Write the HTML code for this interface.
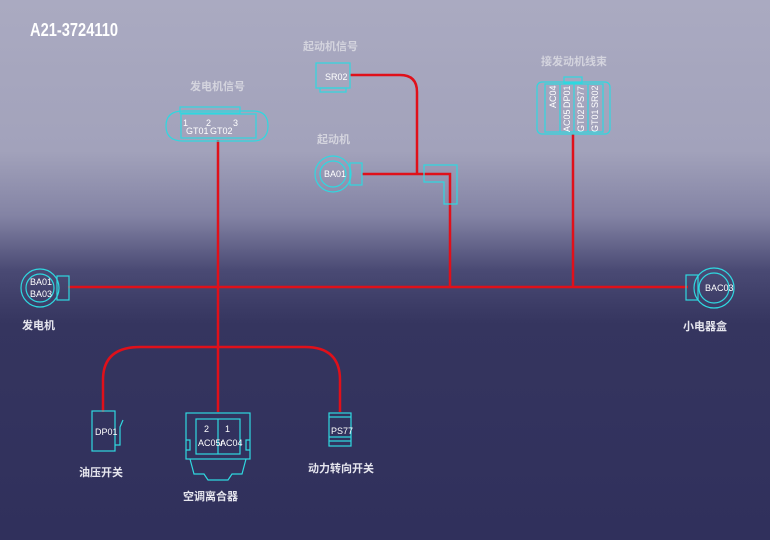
<!DOCTYPE html>
<html><head><meta charset="utf-8"><style>
body{margin:0;width:770px;height:540px;overflow:hidden}
svg{display:block}
text{font-family:"Liberation Sans","Noto Sans CJK SC",sans-serif}
.c{fill:none;stroke:#2fd8e0;stroke-width:1.2}
.r{fill:none;stroke:#e0101a;stroke-width:2.5}
.l{fill:#e6e6ee;font-size:11px;font-weight:bold}
.lt{fill:#d4d4de;font-size:11px;font-weight:bold}
.w{fill:#ffffff;font-size:9px}
</style></head><body>
<svg width="770" height="540" viewBox="0 0 770 540">
<defs><linearGradient id="g" x1="0" y1="0" x2="0" y2="1">
<stop offset="0" stop-color="#aaaac1"/>
<stop offset="0.28" stop-color="#a2a2bb"/>
<stop offset="0.4" stop-color="#8383a4"/>
<stop offset="0.5" stop-color="#4a4a74"/>
<stop offset="0.6" stop-color="#35355f"/>
<stop offset="1" stop-color="#30305c"/>
</linearGradient></defs>
<rect width="770" height="540" fill="url(#g)"/>
<text x="30" y="36" fill="#fff" font-size="18" font-weight="bold" textLength="88" lengthAdjust="spacingAndGlyphs">A21-3724110</text>

<!-- red wires -->
<path class="r" d="M68 287H688"/>
<path class="r" d="M218 140V412"/>
<path class="r" d="M103 412V380Q103 347 140 347H305Q340 347 340 380V412"/>
<path class="r" d="M350 75H400Q417 75 417 92V175"/>
<path class="r" d="M362 174H450V287"/>
<path class="r" d="M573 134V287"/>

<!-- 发电机信号 -->
<text class="lt" x="190" y="90">发电机信号</text>
<rect class="c" x="180" y="107" width="60" height="6"/>
<path class="c" d="M183 111H253Q268 111 268 126Q268 141 253 141H183Q166 141 166 126Q166 111 183 111Z"/>
<rect class="c" x="181" y="114" width="75" height="24"/>
<text class="w" x="183" y="126" font-size="8">1</text><text class="w" x="206" y="126" font-size="8">2</text><text class="w" x="233" y="126" font-size="8">3</text>
<text class="w" x="186" y="134">GT01</text><text class="w" x="210" y="134">GT02</text>

<!-- 起动机信号 -->
<text class="lt" x="303" y="50">起动机信号</text>
<rect class="c" x="316" y="63" width="34" height="25"/>
<rect class="c" x="320" y="88" width="26" height="4"/>
<text class="w" x="325" y="80">SR02</text>

<!-- 起动机 -->
<text class="lt" x="317" y="143">起动机</text>
<circle class="c" cx="333" cy="174" r="18"/><circle class="c" cx="333" cy="174" r="13"/>
<rect class="c" x="350" y="163" width="12" height="22"/>
<text class="w" x="324" y="177">BA01</text>
<path class="c" d="M424 165H457V204H444V182H424Z"/>

<!-- 接发动机线束 -->
<text class="lt" x="541" y="65">接发动机线束</text>
<rect class="c" x="564" y="77" width="18" height="6"/>
<rect class="c" x="537" y="82" width="73" height="52" rx="5"/>
<rect class="c" x="545" y="84" width="58" height="48"/>
<path class="c" d="M560 84V132M574 84V132M588 84V132"/>
<g class="w" font-size="8">
<text transform="translate(556,108) rotate(-90)">AC04</text>
<text transform="translate(570,108) rotate(-90)">DP01</text>
<text transform="translate(584,108) rotate(-90)">PS77</text>
<text transform="translate(598,108) rotate(-90)">SR02</text>
<text transform="translate(570,132) rotate(-90)">AC05</text>
<text transform="translate(584,132) rotate(-90)">GT02</text>
<text transform="translate(598,132) rotate(-90)">GT01</text>
</g>

<!-- 发电机 -->
<circle class="c" cx="40" cy="288" r="19"/><circle class="c" cx="40" cy="288" r="14"/>
<rect class="c" x="57" y="276" width="12" height="24"/>
<text class="w" x="30" y="285">BA01</text><text class="w" x="30" y="297">BA03</text>
<text class="l" x="22" y="329">发电机</text>

<!-- 小电器盒 -->
<circle class="c" cx="714" cy="288" r="20"/><circle class="c" cx="714" cy="288" r="15"/>
<rect class="c" x="686" y="275" width="12" height="25"/>
<text class="w" x="705" y="291">BAC03</text>
<text class="l" x="683" y="330">小电器盒</text>

<!-- 油压开关 -->
<rect class="c" x="92" y="411" width="23" height="40"/>
<path class="c" d="M115 445H120V427L123 420"/>
<text class="w" x="95" y="435">DP01</text>
<text class="l" x="79" y="476">油压开关</text>

<!-- 空调离合器 -->
<rect class="c" x="186" y="413" width="64" height="46"/>
<rect class="c" x="196" y="419" width="44" height="35"/>
<path class="c" d="M218 419V454"/>
<path class="c" d="M186 440H190V450H186M250 440H246V450H250"/>
<path class="c" d="M190 459L194 474H204L208 480H228L232 474H242L246 459"/>
<text class="w" x="204" y="432">2</text><text class="w" x="225" y="432">1</text>
<text class="w" x="198" y="446" font-size="8.5">AC05r</text><text class="w" x="220" y="446" font-size="8.5">AC04</text>
<text class="l" x="183" y="500">空调离合器</text>

<!-- PS77 -->
<rect class="c" x="329" y="413" width="22" height="33"/>
<path class="c" d="M329 417H351M329 437H351M329 441H351"/>
<text class="w" x="331" y="434">PS77</text>
<text class="l" x="308" y="472">动力转向开关</text>
</svg>
</body></html>
